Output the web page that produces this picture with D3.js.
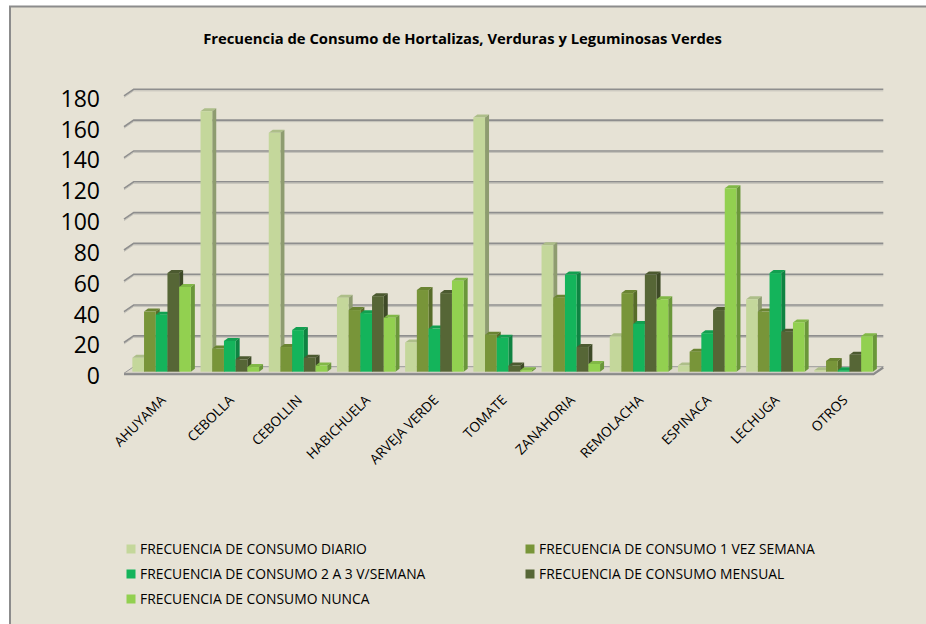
<!DOCTYPE html>
<html>
<head>
<meta charset="utf-8">
<script src="https://cdn.jsdelivr.net/npm/d3@7"></script>
<style>
  html, body { margin: 0; padding: 0; background: #fff; }
  svg { display: block; }
</style>
</head>
<body>
<div id="chart"></div>
<script>
// data
const categories = ['AHUYAMA', 'CEBOLLA', 'CEBOLLIN', 'HABICHUELA', 'ARVEJA VERDE', 'TOMATE',
  'ZANAHORIA', 'REMOLACHA', 'ESPINACA', 'LECHUGA', 'OTROS'];

const seriesNames = [
  'FRECUENCIA DE CONSUMO DIARIO',
  'FRECUENCIA DE CONSUMO 1 VEZ SEMANA',
  'FRECUENCIA DE CONSUMO 2 A 3 V/SEMANA',
  'FRECUENCIA DE CONSUMO MENSUAL',
  'FRECUENCIA DE CONSUMO NUNCA'
];

const diario = [9, 169, 155, 48, 19, 165, 82, 23, 4, 47, 1];
const unaVez = [39, 15, 16, 40, 53, 24, 48, 51, 13, 39, 7];
const dosATres = [37, 20, 27, 38, 28, 22, 63, 31, 25, 64, 1];
const mensual = [64, 8, 9, 49, 51, 4, 16, 63, 40, 26, 11];
const nunca = [55, 3, 4, 35, 59, 1, 5, 47, 119, 32, 23];

const yTicks = [0, 20, 40, 60, 80, 100, 120, 140, 160, 180];

const seriesValues = [diario, unaVez, dosATres, mensual, nunca];
const colors = ['#C4D79B', '#789539', '#14B45B', '#566636', '#92D050'];

const width = 926;
const height = 624;
const font = "'Open Sans', 'DejaVu Sans', sans-serif";

// 3d geometry of the plot box
const wall = { left: 133.7, right: 883.3 };
const depth = { dx: 9.7, dy: 6.6 };     // floor/side wall depth
const barDepth = { dx: 4, dy: 3 };      // bar side/top depth

const svg = d3.select('#chart')
  .append('svg')
  .attr('width', width)
  .attr('height', height)
  .style('font-family', font);

// scale a text's font size so it takes the width it has in the reference
function fitSize(sel, base, target) {
  const len = sel.node().getComputedTextLength();
  return base * target / len;
}

// chart area frame
svg.append('rect')
  .attr('x', 10)
  .attr('y', 6.5)
  .attr('width', width + 20)
  .attr('height', height + 20)
  .attr('fill', '#E6E2D5')
  .attr('stroke', '#8C8C8C')
  .attr('stroke-width', 2);

const title = svg.append('text')
  .attr('x', 462.5)
  .attr('y', 43.5)
  .attr('text-anchor', 'middle')
  .attr('font-weight', 700)
  .attr('font-size', 14)
  .attr('fill', '#000')
  .text('Frecuencia de Consumo de Hortalizas, Verduras y Leguminosas Verdes');
title.attr('font-size', fitSize(title, 14, 519));

const yBack = d3.scaleLinear().domain([0, 180]).range([366.7, 89.3]);
const yBar = d3.scaleLinear().domain([0, 180]).range([371.7, 371.7 - 277.4]);

const x = d3.scaleBand()
  .domain(categories)
  .range([127.5, 877.7])
  .paddingInner(0.142)
  .paddingOuter(0.071);

const xs = d3.scaleBand()
  .domain(d3.range(seriesNames.length))
  .range([0, x.bandwidth()]);

// floor slab
const floorY = yBack(0);
svg.append('path')
  .attr('d', `M${wall.left - depth.dx},${floorY + depth.dy} L${wall.right - depth.dx},${floorY + depth.dy}
    L${wall.right},${floorY} L${wall.left},${floorY} Z`)
  .attr('fill', '#DCD8CB')
  .attr('stroke', '#9A9A9A')
  .attr('stroke-width', 1);
svg.append('path')
  .attr('d', `M${wall.left - depth.dx},${floorY + depth.dy + 1} L${wall.right - depth.dx},${floorY + depth.dy + 1}
    L${wall.right},${floorY + 1}`)
  .attr('fill', 'none')
  .attr('stroke', '#8A8A8A')
  .attr('stroke-width', 2);

// gridlines on back wall + left wall slants
const grid = svg.append('g');
grid.selectAll('path.shade')
  .data(yTicks.filter(d => d > 0))
  .join('path')
  .attr('class', 'shade')
  .attr('d', d => `M${wall.left - depth.dx},${yBack(d) + depth.dy + 1.5} L${wall.left},${yBack(d) + 1.5} L${wall.right},${yBack(d) + 1.5}`)
  .attr('fill', 'none')
  .attr('stroke', '#C2C0B8')
  .attr('stroke-width', 1);
grid.selectAll('path.line')
  .data(yTicks.filter(d => d > 0))
  .join('path')
  .attr('class', 'line')
  .attr('d', d => `M${wall.left - depth.dx},${yBack(d) + depth.dy} L${wall.left},${yBack(d)} L${wall.right},${yBack(d)}`)
  .attr('fill', 'none')
  .attr('stroke', '#8E8E8E')
  .attr('stroke-width', 1.6);

// y labels
svg.append('g')
  .selectAll('text')
  .data(yTicks)
  .join('text')
  .attr('x', 100)
  .attr('y', d => yBack(d) + depth.dy + 2.6)
  .attr('dy', '0.36em')
  .attr('text-anchor', 'end')
  .attr('font-size', 23)
  .attr('fill', '#000')
  .text(d => d);

// bars
const bars = svg.append('g');
categories.forEach((cat, ci) => {
  seriesValues.forEach((vals, si) => {
    const v = vals[ci];
    const x0 = x(cat) + xs(si);
    const w = xs.bandwidth();
    const y0 = yBar(0);
    const y1 = yBar(v);
    const c = d3.color(colors[si]);
    const g = bars.append('g');
    // top face
    g.append('path')
      .attr('d', `M${x0},${y1} L${x0 + barDepth.dx},${y1 - barDepth.dy} L${x0 + w + barDepth.dx},${y1 - barDepth.dy} L${x0 + w},${y1} Z`)
      .attr('fill', c.darker(0.35));
    // side face
    g.append('path')
      .attr('d', `M${x0 + w},${y1} L${x0 + w + barDepth.dx},${y1 - barDepth.dy} L${x0 + w + barDepth.dx},${y0 - barDepth.dy} L${x0 + w},${y0} Z`)
      .attr('fill', c.darker(0.9));
    // front face
    g.append('rect')
      .attr('x', x0)
      .attr('y', y1)
      .attr('width', w)
      .attr('height', y0 - y1)
      .attr('fill', c);
  });
});

// x labels
const xLabels = svg.append('g')
  .selectAll('text')
  .data(categories)
  .join('text')
  .attr('transform', d => `translate(${x(d) + x.bandwidth() / 2 + 5},${401}) rotate(-45)`)
  .attr('text-anchor', 'end')
  .attr('font-size', 13)
  .attr('fill', '#000')
  .text(d => d);
xLabels.attr('font-size', fitSize(xLabels.filter((d, i) => i === 0), 13, 66));

// legend
const legendPos = [
  [126.5, 549], [525.5, 549],
  [126.5, 574], [525.5, 574],
  [126.5, 599]
];
const legend = svg.append('g')
  .selectAll('g')
  .data(seriesNames)
  .join('g')
  .attr('transform', (d, i) => `translate(${legendPos[i][0]},${legendPos[i][1]})`);
legend.append('rect')
  .attr('x', 0)
  .attr('y', -4.5)
  .attr('width', 9)
  .attr('height', 9)
  .attr('fill', (d, i) => colors[i]);
const legendText = legend.append('text')
  .attr('x', 13.5)
  .attr('dy', '0.36em')
  .attr('font-size', 13)
  .attr('fill', '#000')
  .text(d => d);
legendText.attr('font-size', fitSize(legendText.filter((d, i) => i === 0), 13, 227));
</script>
</body>
</html>
